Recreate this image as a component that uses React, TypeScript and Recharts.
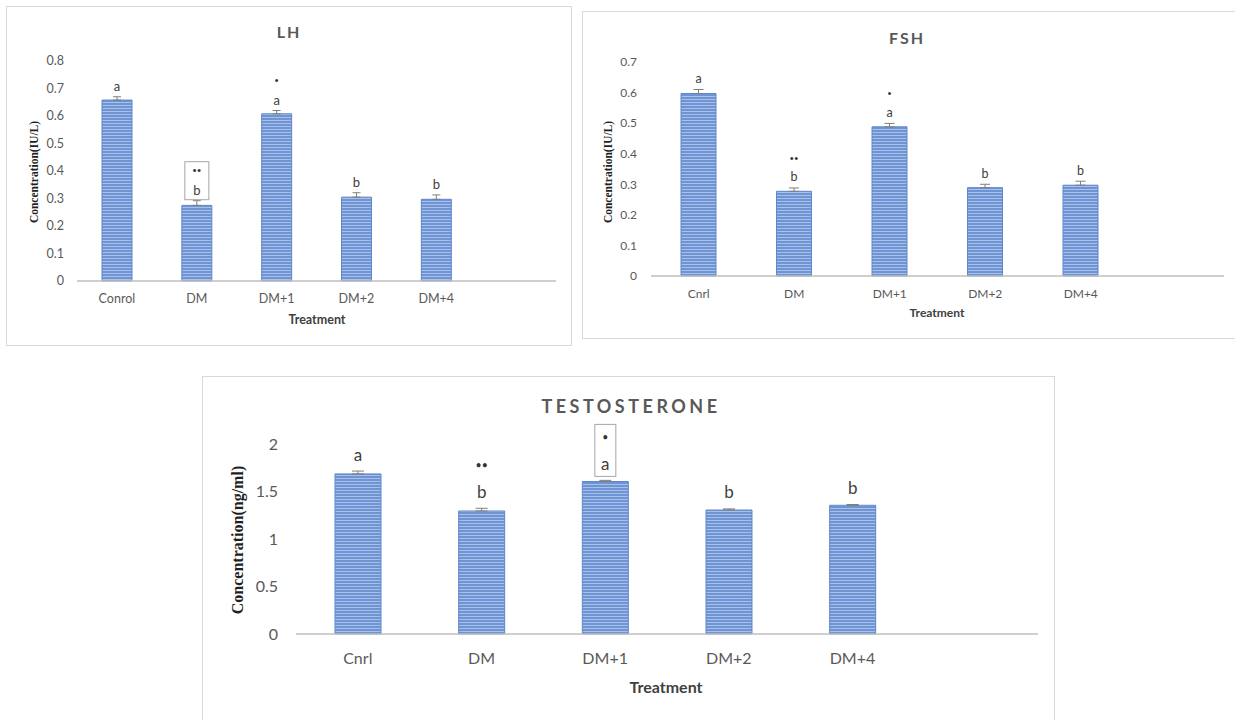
import React from 'react';
import { BarChart, Bar, XAxis, YAxis, ErrorBar, LabelList } from 'recharts';

// categories (the last slot is the empty one Excel left on the axis)
const lhCategories = ['Conrol', 'DM', 'DM+1', 'DM+2', 'DM+4', ''];
const cnrlCategories = ['Cnrl', 'DM', 'DM+1', 'DM+2', 'DM+4', ''];

// LH (IU/L)
const lhValues = [0.658, 0.275, 0.608, 0.305, 0.297];
const lhErrors = [0.012, 0.017, 0.012, 0.016, 0.016];
const lhTicks = [0, 0.1, 0.2, 0.3, 0.4, 0.5, 0.6, 0.7, 0.8];

// FSH (IU/L)
const fshValues = [0.597, 0.277, 0.488, 0.289, 0.297];
const fshErrors = [0.013, 0.011, 0.011, 0.011, 0.013];
const fshTicks = [0, 0.1, 0.2, 0.3, 0.4, 0.5, 0.6, 0.7];

// Testosterone (ng/ml)
const tValues = [1.685, 1.295, 1.605, 1.305, 1.355];
const tErrors = [0.03, 0.028, 0.012, 0.012, 0.008];
const tTicks = [0, 0.5, 1, 1.5, 2];

// significance marks
const letters = ['a', 'b', 'a', 'b', 'b'];
const stars = ['', '••', '•', '', ''];
const lhBoxed = [false, true, false, false, false];
const fshBoxed = [false, false, false, false, false];
const tBoxed = [false, false, true, false, false];

const GREY = '#595959';

const buildData = (cats: string[], values: number[], errors: number[]) =>
  cats.map((name, i) => ({
    name,
    value: i < values.length ? values[i] : null,
    err: i < errors.length ? [0, errors[i]] : null,
  }));

type MarkCfg = {
  values: number[];
  errors: number[];
  boxed: boolean[];
  fontSize: number;
  letterGap: number;
  starGap: number;
  boxW: number;
  boxH: number;
  boxGap: number;
};

const makeMarks = (cfg: MarkCfg) => (props: any) => {
  const { index } = props;
  if (index == null || index >= cfg.values.length) return null;
  const x = Number(props.x);
  const y = Number(props.y);
  const w = Number(props.width);
  const h = Number(props.height);
  const pxPer = h / cfg.values[index];
  const errTop = y - cfg.errors[index] * pxPer;
  const cx = x + w / 2;
  const ly = errTop - cfg.letterGap;
  const sy = ly - cfg.starGap;
  return (
    <g key={`m-${index}`}>
      {cfg.boxed[index] && (
        <rect
          x={cx - cfg.boxW / 2}
          y={errTop - cfg.boxGap - cfg.boxH}
          width={cfg.boxW}
          height={cfg.boxH}
          fill="#fff"
          stroke="#a6a6a6"
          strokeWidth={1}
        />
      )}
      <text x={cx} y={ly} textAnchor="middle" dominantBaseline="central"
        fontFamily="Lato" fontSize={cfg.fontSize} fill="#404040">
        {letters[index]}
      </text>
      {stars[index] && (
        <text x={cx} y={sy} textAnchor="middle" dominantBaseline="central"
          fontFamily="Lato" fontSize={cfg.fontSize * 0.62} fill="#333333">
          {stars[index]}
        </text>
      )}
    </g>
  );
};

type PanelProps = {
  left: number; top: number; width: number; height: number;
  margin: { top: number; right: number; left: number; bottom: number };
  yWidth: number;
  data: any[];
  ticks: number[];
  barSize: number;
  cap: number;
  tickFont: number;
  yTickMargin: number;
  xTickMargin: number;
  marks: MarkCfg;
};

const Panel = (p: PanelProps) => (
  <div style={{ position: 'absolute', left: p.left, top: p.top }}>
    <BarChart width={p.width} height={p.height} data={p.data} margin={p.margin}>
      <XAxis
        dataKey="name"
        interval={0}
        height={30}
        tickLine={false}
        tickSize={0}
        tickMargin={p.xTickMargin}
        axisLine={{ stroke: '#bfbfbf', strokeWidth: 1.5 }}
        tick={{ fill: GREY, fontSize: p.tickFont, fontFamily: 'Lato' }}
      />
      <YAxis
        width={p.yWidth}
        domain={[p.ticks[0], p.ticks[p.ticks.length - 1]]}
        ticks={p.ticks}
        interval={0}
        axisLine={false}
        tickLine={false}
        tickSize={0}
        tickMargin={p.yTickMargin}
        tick={{ fill: GREY, fontSize: p.tickFont, fontFamily: 'Lato' }}
      />
      <Bar dataKey="value" barSize={p.barSize} fill="url(#stripes)" stroke="#5f87cc"
        strokeWidth={1} isAnimationActive={false}>
        <ErrorBar dataKey="err" width={p.cap} stroke="#7f7f7f" strokeWidth={1}
          direction="y" isAnimationActive={false} />
        <LabelList dataKey="value" content={makeMarks(p.marks)} />
      </Bar>
    </BarChart>
  </div>
);

const Txt = ({ x, y, size, bold, color, rotate, family, spacing, children }: any) => (
  <div
    style={{
      position: 'absolute',
      left: x,
      top: y,
      transform: `translate(-50%, -50%)${rotate ? ' rotate(-90deg)' : ''}`,
      whiteSpace: 'nowrap',
      fontFamily: family || 'Lato',
      fontSize: size,
      fontWeight: bold ? 700 : 400,
      color: color || '#404040',
      letterSpacing: spacing || 0,
      lineHeight: 1,
    }}
  >
    {children}
  </div>
);

const boxStyle = (l: number, t: number, w: number, h: number): React.CSSProperties => ({
  position: 'absolute', left: l, top: t, width: w, height: h,
  border: '1px solid #d9d9d9', boxSizing: 'border-box',
});

export default function App() {
  const lhData = buildData(lhCategories, lhValues, lhErrors);
  const fshData = buildData(cnrlCategories, fshValues, fshErrors);
  const tData = buildData(cnrlCategories, tValues, tErrors);

  return (
    <div style={{ position: 'absolute', left: 0, top: 0, width: 1235, height: 720,
      overflow: 'hidden', background: '#fff' }}>
      <svg width={0} height={0} style={{ position: 'absolute' }}>
        <defs>
          <pattern id="stripes" patternUnits="userSpaceOnUse" width={6} height={3}>
            <rect x={0} y={0} width={6} height={3} fill="#6e94d4" />
            <rect x={0} y={0} width={6} height={1} fill="#a9c1ea" />
          </pattern>
        </defs>
      </svg>

      <div style={boxStyle(6, 6, 566, 340)} />
      <div style={boxStyle(582, 11, 700, 328)} />
      <div style={boxStyle(202, 376, 853, 400)} />

      <Panel left={0} top={0} width={572} height={346}
        margin={{ top: 61, right: 16, left: 0, bottom: 35 }}
        yWidth={77} data={lhData} ticks={lhTicks} barSize={30} cap={4}
        tickFont={12.5} yTickMargin={13} xTickMargin={13}
        marks={{ values: lhValues, errors: lhErrors, boxed: lhBoxed, fontSize: 13,
          letterGap: 11, starGap: 20, boxW: 24, boxH: 38, boxGap: 1 }} />

      <Panel left={580} top={0} width={655} height={345}
        margin={{ top: 62, right: 11, left: 0, bottom: 39 }}
        yWidth={71} data={fshData} ticks={fshTicks} barSize={35} cap={5}
        tickFont={12} yTickMargin={14} xTickMargin={13}
        marks={{ values: fshValues, errors: fshErrors, boxed: fshBoxed, fontSize: 12.5,
          letterGap: 11, starGap: 19, boxW: 24, boxH: 38, boxGap: 1 }} />

      <Panel left={200} top={370} width={860} height={350}
        margin={{ top: 74, right: 22, left: 0, bottom: 56 }}
        yWidth={96} data={tData} ticks={tTicks} barSize={46} cap={6}
        tickFont={16} yTickMargin={18} xTickMargin={19}
        marks={{ values: tValues, errors: tErrors, boxed: tBoxed, fontSize: 17,
          letterGap: 17, starGap: 26, boxW: 21, boxH: 52, boxGap: 4 }} />

      <Txt x={289} y={32} size={16} bold color={GREY} spacing={2}>LH</Txt>
      <Txt x={35} y={172} size={11.5} bold rotate family="Liberation Serif" color="#1f1f1f">
        Concentration(IU/L)
      </Txt>
      <Txt x={317} y={320} size={12.5} bold>Treatment</Txt>

      <Txt x={907} y={38} size={16} bold color={GREY} spacing={2}>FSH</Txt>
      <Txt x={609} y={172} size={11.5} bold rotate family="Liberation Serif" color="#1f1f1f">
        Concentration(IU/L)
      </Txt>
      <Txt x={937} y={313} size={12} bold>Treatment</Txt>

      <Txt x={631} y={406} size={18} bold color={GREY} spacing={3.5}>TESTOSTERONE</Txt>
      <Txt x={238} y={540} size={16} bold rotate family="Liberation Serif" color="#1f1f1f">
        Concentration(ng/ml)
      </Txt>
      <Txt x={666} y={687} size={16} bold>Treatment</Txt>
    </div>
  );
}
